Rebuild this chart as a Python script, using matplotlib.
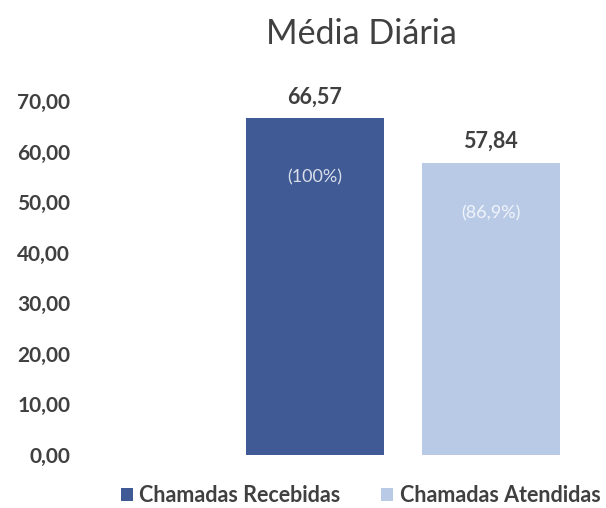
import matplotlib
matplotlib.use("Agg")
import matplotlib.pyplot as plt
from matplotlib.patches import Patch

# Daily average of calls
series = ["Chamadas Recebidas", "Chamadas Atendidas"]
values = [66.57, 57.84]
pct_labels = ["(100%)", "(86,9%)"]
yticks = [0, 10, 20, 30, 40, 50, 60, 70]

colors = ["#3F5A94", "#B9CAE7"]
text_color = "#404040"

plt.rcParams["font.family"] = ["Lato", "DejaVu Sans"]

fig = plt.figure(figsize=(6.06, 5.08), dpi=100)
ax = fig.add_axes([0.132, 0.1043, 0.842, 0.6968])

xs = [0, 1]
bars = ax.bar(xs, values, width=0.784, color=colors)

ax.set_ylim(0, 70)
ax.set_xlim(-1.332, 1.565)
ax.set_yticks(yticks)
ax.set_yticklabels([f"{v:.2f}".replace(".", ",") for v in yticks],
                   fontsize=15, fontweight="bold", color=text_color)
ax.tick_params(axis="y", length=0, pad=7)
ax.set_xticks([])
for s in ax.spines.values():
    s.set_visible(False)

for x, v, p in zip(xs, values, pct_labels):
    ax.text(x, v + 2.2, f"{v:.2f}".replace(".", ","), ha="center", va="bottom",
            fontsize=15.5, fontweight="bold", color=text_color)
    ax.text(x, v * 0.825, p, ha="center", va="center", fontsize=13,
            color="white", alpha=0.8)

fig.text(0.596, 0.933, "Média Diária", ha="center", va="center",
         fontsize=24.5, color=text_color)

handles = [Patch(facecolor=c, edgecolor="none") for c in colors]
leg = fig.legend(handles, series, loc="center", bbox_to_anchor=(0.595, 0.024),
                 ncol=2, frameon=False, handlelength=0.55,
                 handleheight=0.55, handletextpad=0.3, columnspacing=1.9,
                 prop={"weight": "bold", "size": 15.5})
for t in leg.get_texts():
    t.set_color(text_color)

fig.savefig("out.png", dpi=100, facecolor="white")
